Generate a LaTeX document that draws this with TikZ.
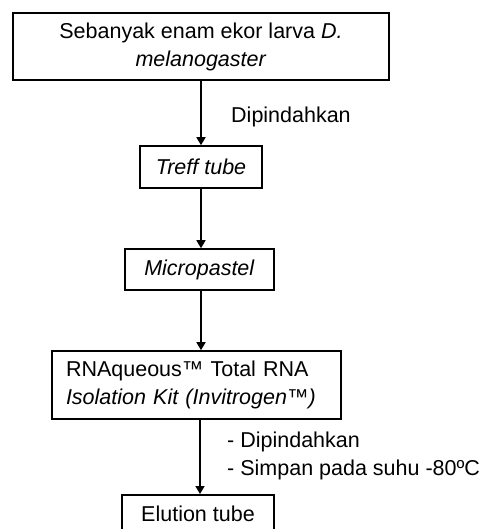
\documentclass[tikz,border=0pt]{standalone}
\usepackage{fontspec}
\setmainfont{Liberation Sans}
\usetikzlibrary{arrows.meta}
\begin{document}
\begin{tikzpicture}[x=1pt,y=-1pt,
  box/.style={draw,line width=1.6pt,inner sep=0pt,font=\fontsize{21.5}{28}\selectfont},
  arr/.style={line width=1.6pt,-{Triangle[length=8pt,width=9pt]}},
  lbl/.style={font=\fontsize{21.5}{28}\selectfont,inner sep=0pt,anchor=west,align=left}]
\useasboundingbox (0,0) rectangle (488,529);
\begin{scope}
\clip (0,0) rectangle (488,529);
\node[box,minimum width=376pt,minimum height=67pt,align=center] (b1) at (201,46.5)
  {Sebanyak enam ekor larva \textit{D.}\\\textit{melanogaster}};
\node[box,minimum width=122pt,minimum height=42pt] (b2) at (201,167) {\textit{Treff tube}};
\node[box,minimum width=149pt,minimum height=41pt] (b3) at (199.5,269.5) {\textit{Micropastel}\hspace{8pt}};
\node[box,minimum width=289pt,minimum height=68pt,align=left,text width=261pt] (b4) at (196.5,385)
  {RNAqueous™ Total RNA\\\textit{Isolation Kit (Invitrogen™)}};
\node[box,minimum width=152pt,minimum height=40pt,anchor=north] (b5) at (198,494) {\raisebox{2pt}{Elution tube}};
\end{scope}
\draw[arr] (b1.south) -- (b2.north);
\draw[arr] (b2.south) -- ([xshift=1.5pt]b3.north);
\draw[arr] ([xshift=1.5pt]b3.south) -- ([xshift=4.5pt]b4.north);
\draw[arr] ([xshift=3.5pt]b4.south) -- ([xshift=2pt]b5.north);
\node[lbl] (l1) at (231,117) {Dipindahkan};
\node[lbl] (l2) at (227,456) {- Dipindahkan\\- Simpan pada suhu -80ºC};
\end{tikzpicture}
\end{document}
